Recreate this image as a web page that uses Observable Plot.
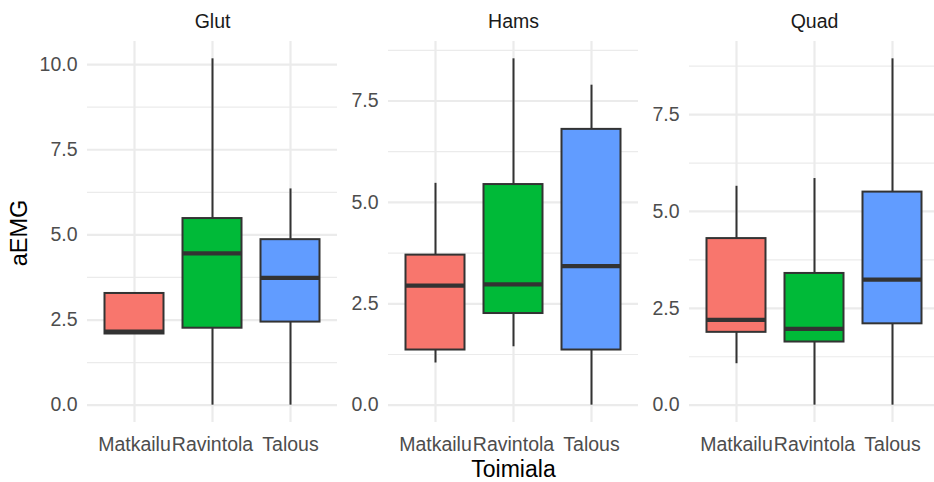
<!DOCTYPE html>
<html>
<head>
<meta charset="utf-8">
<script src="https://cdn.jsdelivr.net/npm/d3@7"></script>
<script src="https://cdn.jsdelivr.net/npm/@observablehq/plot@0.6"></script>
<style>
  body { margin: 0; background: #fff; overflow: hidden; }
  #chart { position: relative; width: 934px; height: 482px; overflow: hidden; background: #fff; }
  #chart svg { position: absolute; top: 0; }
</style>
</head>
<body>
<div id="chart"></div>
<script>
// Industry groups on the x axis, one panel per muscle
const categories = ["Matkailu", "Ravintola", "Talous"];
const muscles = ["Glut", "Hams", "Quad"];
const fills = ["#F8766D", "#00BA38", "#619CFF"];

// Box-plot statistics per muscle (rows) and industry (columns)
const whiskerLow = [
  [2.09, 0.00, 0.00],
  [1.04, 1.44, 0.00],
  [1.07, 0.00, 0.00]
];
const lowerQuartile = [
  [2.09, 2.26, 2.44],
  [1.36, 2.26, 1.36],
  [1.88, 1.63, 2.10]
];
const medianValue = [
  [2.16, 4.46, 3.74],
  [2.95, 2.98, 3.43],
  [2.20, 1.97, 3.24]
];
const upperQuartile = [
  [3.28, 5.48, 4.86],
  [3.70, 5.44, 6.80],
  [4.30, 3.40, 5.50]
];
const whiskerHigh = [
  [3.28, 10.17, 6.35],
  [5.47, 8.54, 7.89],
  [5.65, 5.85, 8.94]
];

// y-axis tick labels per panel
const majorTicks = [
  [0, 2.5, 5, 7.5, 10],
  [0, 2.5, 5, 7.5],
  [0, 2.5, 5, 7.5]
];
const minorTicks = [
  [1.25, 3.75, 6.25, 8.75],
  [1.25, 3.75, 6.25, 8.75],
  [1.25, 3.75, 6.25, 8.75]
];

const xTitle = "Toimiala";
const yTitle = "aEMG";

const FONT = "'Liberation Sans', Arial, sans-serif";
const GRID = "#EBEBEB";
const INK = "#333333";
const panelWidth = 250;
const layout = [
  {left: 0, marginLeft: 87},
  {left: 328, marginLeft: 60},
  {left: 629, marginLeft: 60}
];

const chart = document.getElementById("chart");

muscles.forEach((muscle, m) => {
  const rows = categories.map((cat, i) => ({
    cat,
    fill: fills[i],
    lo: whiskerLow[m][i],
    q1: lowerQuartile[m][i],
    med: medianValue[m][i],
    q3: upperQuartile[m][i],
    hi: whiskerHigh[m][i]
  }));
  // 5% expansion of the data range on both ends
  const lo = d3.min(rows, d => d.lo), hi = d3.max(rows, d => d.hi);
  const pad = (hi - lo) * 0.05;

  const marks = [
    Plot.ruleY(minorTicks[m], {stroke: GRID, strokeWidth: 1.2}),
    Plot.ruleY(majorTicks[m], {stroke: GRID, strokeWidth: 2.2}),
    Plot.ruleX(categories, {x: d => d, stroke: GRID, strokeWidth: 2.2}),
    Plot.axisX({tickSize: 0, tickPadding: 15, label: null}),
    Plot.axisY(majorTicks[m], {tickSize: 0, tickPadding: 10, tickFormat: d3.format(".1f"), label: null}),
    // whiskers
    Plot.ruleX(rows, {x: "cat", y1: "lo", y2: "q1", stroke: INK, strokeWidth: 2}),
    Plot.ruleX(rows, {x: "cat", y1: "q3", y2: "hi", stroke: INK, strokeWidth: 2}),
    // boxes
    Plot.barY(rows, {x: "cat", y1: "q1", y2: "q3", fill: "fill", stroke: INK, strokeWidth: 2, insetLeft: 9.5, insetRight: 9.5}),
    // medians
    Plot.tickY(rows, {x: "cat", y: "med", stroke: INK, strokeWidth: 4.3, insetLeft: 9.5, insetRight: 9.5}),
    // strip label
    Plot.text([muscle], {text: d => d, frameAnchor: "top", dy: -20, lineAnchor: "middle", textAnchor: "middle", fill: "#1A1A1A"})
  ];
  if (m === 0) {
    marks.push(Plot.text([yTitle], {text: d => d, frameAnchor: "left", rotate: -90, dx: -68, dy: 1, lineAnchor: "middle", textAnchor: "middle", fontSize: 23.5, fill: "#000"}));
  }
  if (m === 1) {
    marks.push(Plot.text([xTitle], {text: d => d, frameAnchor: "bottom", dy: 47, lineAnchor: "middle", textAnchor: "middle", fontSize: 23, fill: "#000"}));
  }

  const svg = Plot.plot({
    width: layout[m].marginLeft + panelWidth,
    height: 482,
    marginLeft: layout[m].marginLeft,
    marginRight: 0,
    marginTop: 41,
    marginBottom: 60,
    style: {background: "transparent", fontFamily: FONT, fontSize: "19.5px", color: "#4D4D4D", overflow: "visible"},
    x: {domain: categories, paddingInner: 0, paddingOuter: 0.1, axis: null},
    y: {domain: [lo - pad, hi + pad], axis: null},
    marks
  });
  svg.style.left = layout[m].left + "px";
  chart.appendChild(svg);
});
</script>
</body>
</html>
